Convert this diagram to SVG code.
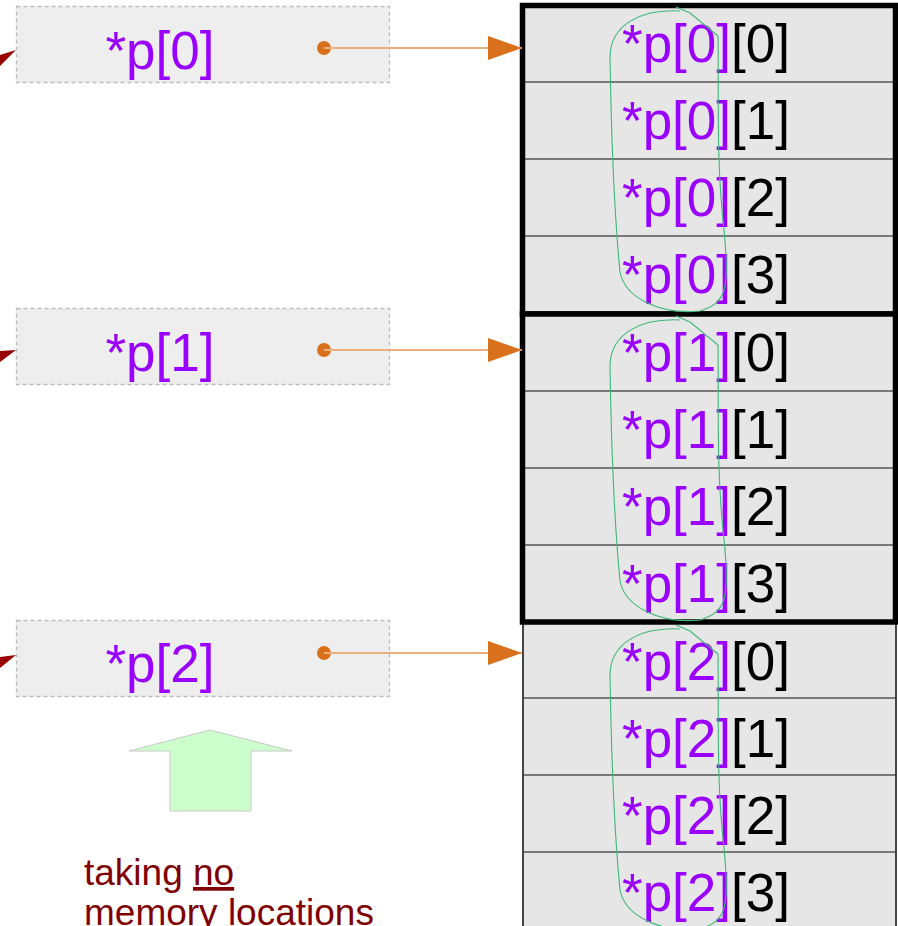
<svg xmlns="http://www.w3.org/2000/svg" width="898" height="926" viewBox="0 0 898 926">
<style>
.ptr{fill:#eeeeee;stroke:#bbbbbb;stroke-width:1.3;stroke-dasharray:4 3}
.pt{font-family:"Liberation Sans",Arial,sans-serif;font-size:53px;fill:#9900ff}
.blk{fill:#000000}
.cell{fill:#e6e6e6}
.sep{stroke:#555555;stroke-width:1.6}
.thick{fill:none;stroke:#000000;stroke-width:5.5}
.thin{fill:none;stroke:#333333;stroke-width:1.8}
.conn{stroke:#e8b07c;stroke-width:2;fill:none}
.dot{fill:#d8701c}
.loop{fill:none;stroke:#3cb878;stroke-width:1.1}
.note{font-family:"Liberation Sans",Arial,sans-serif;font-size:37px;fill:#800000}
</style>
<defs>
<marker id="ah" markerWidth="34" markerHeight="24" refX="34" refY="12" orient="auto" markerUnits="userSpaceOnUse">
<path d="M0,0 L34,12 L0,24 Z" fill="#d8701c"/>
</marker>
<path id="lp" d="M676,7 L690,13 L718,36 C719,100 716,160 724,230 C730,290 726,303 700,311 C660,315 625,298 620,272 C613,200 611,120 610,56 C611,25 640,9 680,11"/>
</defs>

<!-- off-image incoming arrowheads -->
<g id="incoming">
<polygon points="16,50 0,55 0,66" fill="#990000"/>
<polygon points="16,350 0,351 0,362" fill="#990000"/>
<polygon points="16,655 0,657 0,668" fill="#990000"/>
</g>

<!-- pointer boxes -->
<g id="p0">
<rect class="ptr" x="16.5" y="6.5" width="373" height="76"/>
<text class="pt" x="160" y="69" text-anchor="middle">*p[0]</text>
</g>
<g id="p1">
<rect class="ptr" x="16.5" y="308.5" width="373" height="76"/>
<text class="pt" x="160" y="371" text-anchor="middle">*p[1]</text>
</g>
<g id="p2">
<rect class="ptr" x="16.5" y="620.5" width="373" height="76"/>
<text class="pt" x="160" y="682" text-anchor="middle">*p[2]</text>
</g>

<!-- array group 2 -->
<g id="row2">
<rect class="cell" x="523" y="622" width="373" height="310"/>
<line class="sep" x1="523" y1="698" x2="896" y2="698"/>
<line class="sep" x1="523" y1="775" x2="896" y2="775"/>
<line class="sep" x1="523" y1="852" x2="896" y2="852"/>
<text class="pt" x="622" y="680">*p[2]<tspan class="blk">[0]</tspan></text>
<text class="pt" x="622" y="757">*p[2]<tspan class="blk">[1]</tspan></text>
<text class="pt" x="622" y="834">*p[2]<tspan class="blk">[2]</tspan></text>
<text class="pt" x="622" y="911">*p[2]<tspan class="blk">[3]</tspan></text>
<rect class="thin" x="523" y="622" width="373" height="320"/>
</g>

<!-- array group 0 -->
<g id="row0">
<rect class="cell" x="522" y="5" width="374" height="309"/>
<line class="sep" x1="522" y1="82" x2="896" y2="82"/>
<line class="sep" x1="522" y1="159" x2="896" y2="159"/>
<line class="sep" x1="522" y1="236" x2="896" y2="236"/>
<text class="pt" x="622" y="62">*p[0]<tspan class="blk">[0]</tspan></text>
<text class="pt" x="622" y="139">*p[0]<tspan class="blk">[1]</tspan></text>
<text class="pt" x="622" y="216">*p[0]<tspan class="blk">[2]</tspan></text>
<text class="pt" x="622" y="293">*p[0]<tspan class="blk">[3]</tspan></text>
<rect class="thick" x="522.5" y="5.5" width="373" height="308.5"/>
</g>

<!-- array group 1 -->
<g id="row1">
<rect class="cell" x="522" y="314" width="374" height="308"/>
<line class="sep" x1="522" y1="391" x2="896" y2="391"/>
<line class="sep" x1="522" y1="468" x2="896" y2="468"/>
<line class="sep" x1="522" y1="545" x2="896" y2="545"/>
<text class="pt" x="622" y="371">*p[1]<tspan class="blk">[0]</tspan></text>
<text class="pt" x="622" y="448">*p[1]<tspan class="blk">[1]</tspan></text>
<text class="pt" x="622" y="525">*p[1]<tspan class="blk">[2]</tspan></text>
<text class="pt" x="622" y="602">*p[1]<tspan class="blk">[3]</tspan></text>
<rect class="thick" x="522.5" y="314" width="373" height="308"/>
</g>

<!-- hand-drawn loops -->
<g id="loops">
<use href="#lp" class="loop"/>
<use href="#lp" class="loop" transform="translate(0,309)"/>
<use href="#lp" class="loop" transform="translate(0,618)"/>
</g>

<!-- connectors -->
<g id="connectors">
<circle class="dot" cx="324" cy="48" r="7"/>
<line class="conn" x1="324" y1="48" x2="522" y2="48" marker-end="url(#ah)"/>
<circle class="dot" cx="324" cy="350" r="7"/>
<line class="conn" x1="324" y1="350" x2="522" y2="350" marker-end="url(#ah)"/>
<circle class="dot" cx="324" cy="653" r="7"/>
<line class="conn" x1="324" y1="653" x2="522" y2="653" marker-end="url(#ah)"/>
</g>

<!-- green up arrow -->
<g id="uparrow">
<polygon points="210,730 292,751 251,751 251,811 170,811 170,751 129,751" fill="#ccffcc" stroke="#c8c8c8" stroke-width="1"/>
</g>

<!-- note -->
<g id="note">
<text class="note" x="84" y="885">taking <tspan text-decoration="underline">no</tspan></text>
<text class="note" x="84" y="925">memory locations</text>
</g>
</svg>
